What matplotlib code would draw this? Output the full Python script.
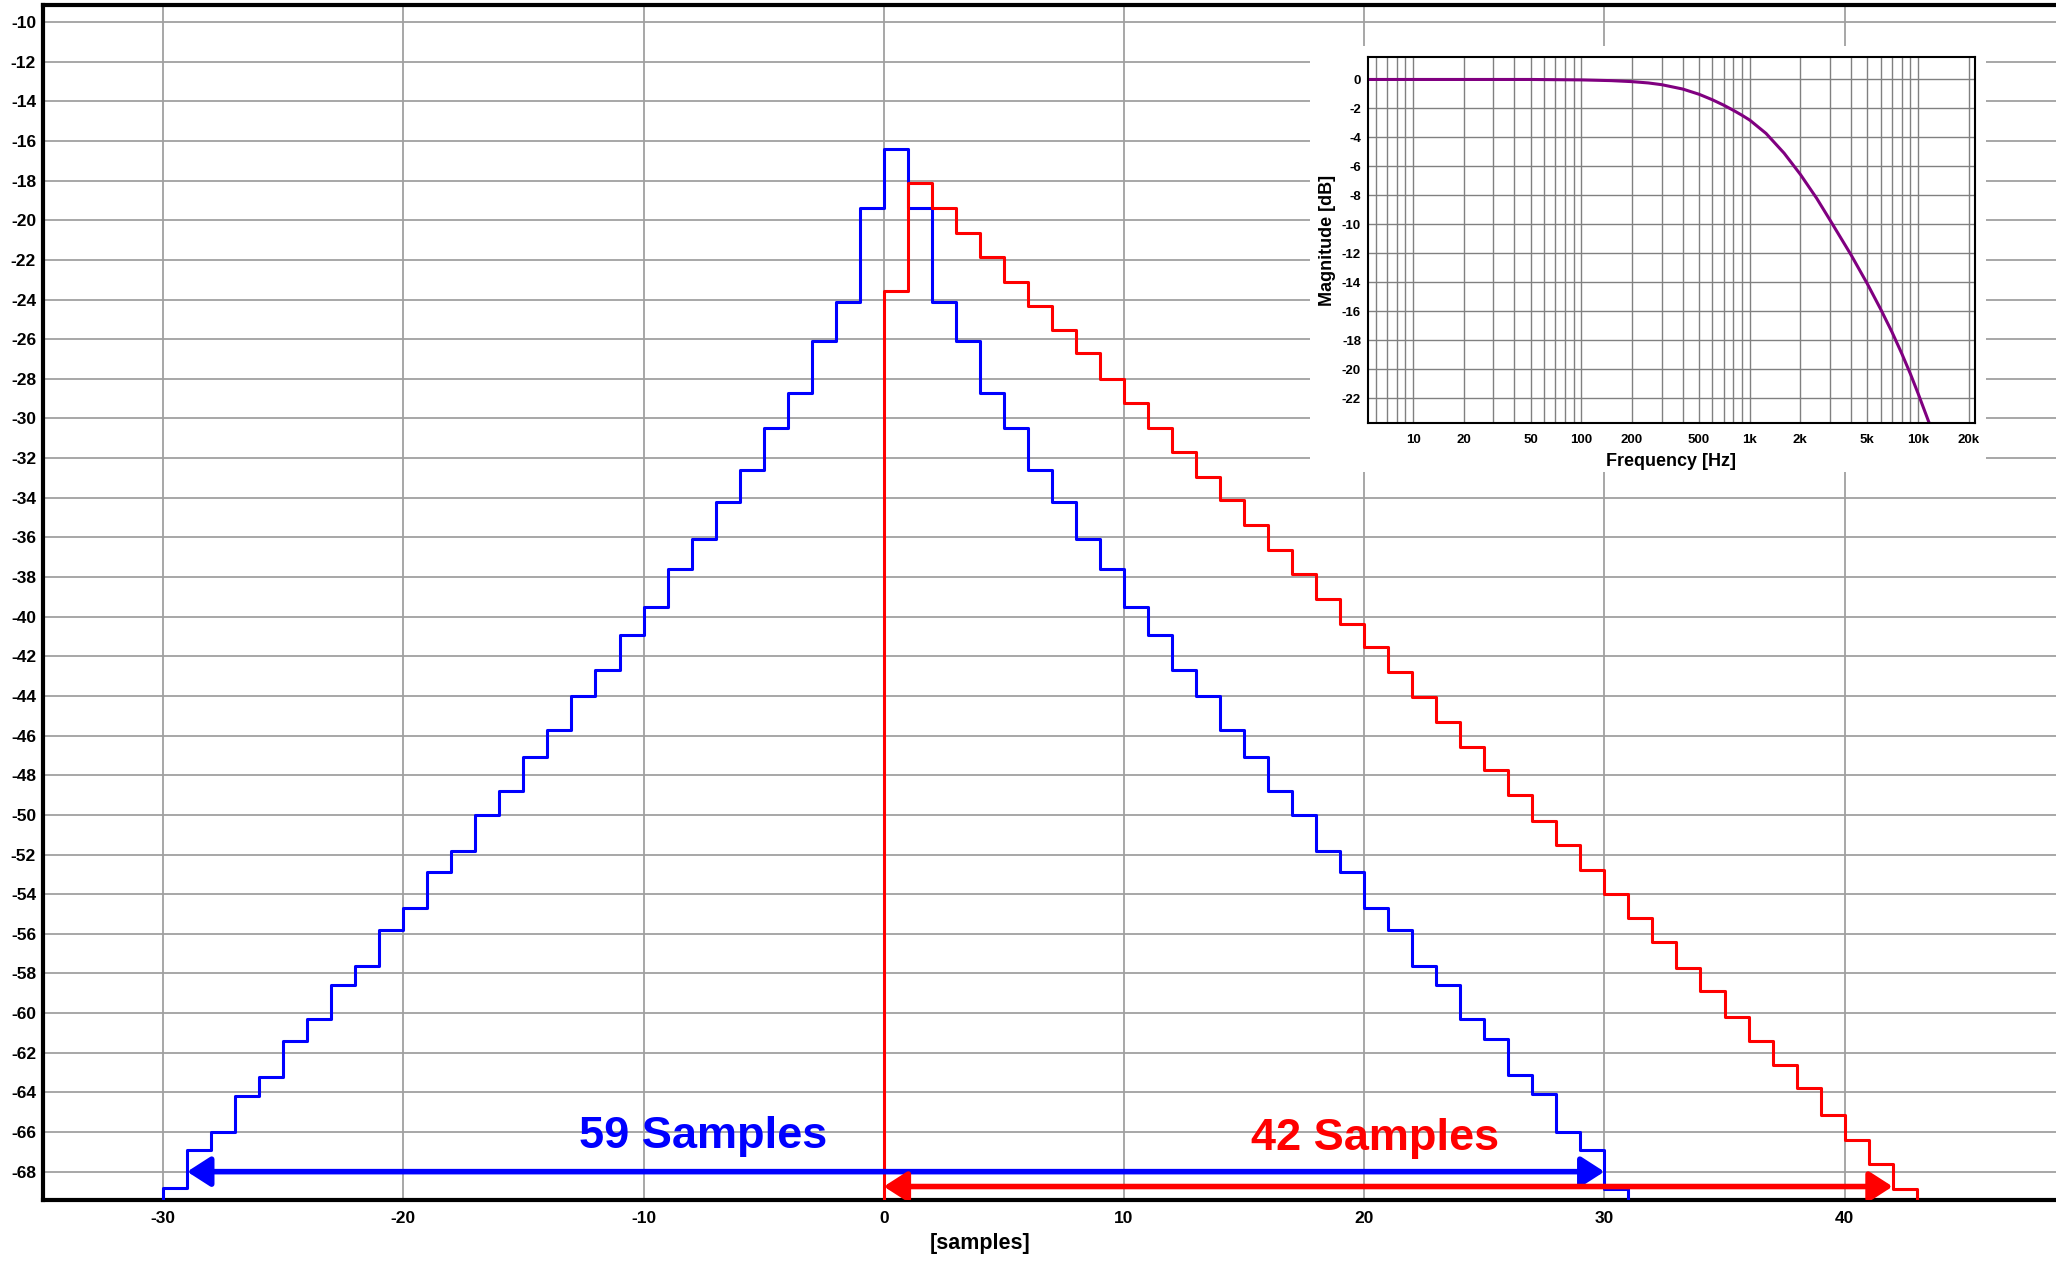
import matplotlib
matplotlib.use("Agg")
import matplotlib.pyplot as plt
import numpy as np
from matplotlib.patches import FancyArrowPatch, Rectangle
from matplotlib.ticker import FixedLocator, NullFormatter

plt.rcParams["font.family"] = ["Liberation Sans", "DejaVu Sans"]
plt.rcParams["font.weight"] = "bold"
plt.rcParams["axes.unicode_minus"] = False

FLOOR = -80.0  # below the visible range, the trace drops off the chart

# impulse response 1 (blue), level of the step starting at each sample
blue_x = list(range(-30, 31))
blue_db = [-68.8, -66.9, -66.0, -64.2, -63.2, -61.4, -60.3, -58.6, -57.6, -55.8,
           -54.7, -52.9, -51.8, -50.0, -48.8, -47.1, -45.7, -44.0, -42.7, -40.9,
           -39.5, -37.6, -36.1, -34.2, -32.6, -30.5, -28.7, -26.1, -24.1, -19.4,
           -16.4,
           -19.4, -24.1, -26.1, -28.7, -30.5, -32.6, -34.2, -36.1, -37.6, -39.5,
           -40.9, -42.7, -44.0, -45.7, -47.1, -48.8, -50.0, -51.8, -52.9, -54.7,
           -55.8, -57.6, -58.6, -60.3, -61.3, -63.1, -64.1, -66.0, -66.9, -68.9]

# impulse response 2 (red)
red_x = list(range(0, 43))
red_db = [-23.56, -18.14, -19.38, -20.63, -21.86, -23.1, -24.33, -25.56, -26.7, -28.0,
          -29.2, -30.5, -31.7, -32.95, -34.1, -35.4, -36.65, -37.85, -39.1, -40.36,
          -41.55, -42.8, -44.06, -45.3, -46.6, -47.76, -49.0, -50.3, -51.5, -52.8,
          -54.0, -55.2, -56.4, -57.7, -58.9, -60.2, -61.4, -62.6, -63.8, -65.15,
          -66.4, -67.6, -68.9]

# length markers
blue_span = (-29, 30, -68.0)
red_span = (0, 42, -68.75)
blue_label = "59 Samples"
red_label = "42 Samples"

# inset: magnitude response
freq_hz = [5.4, 50, 100, 150, 200, 250, 300, 400, 500, 600, 700, 800, 900, 1000,
           1250, 1600, 2000, 2500, 3000, 4000, 5000, 6000, 7000, 8000, 9000,
           10000, 12000]
mag_db = [0.0, 0.0, -0.03, -0.08, -0.15, -0.24, -0.36, -0.66, -1.02, -1.40, -1.77,
          -2.13, -2.47, -2.8, -3.72, -5.08, -6.55, -8.2, -9.7, -12.1, -14.1,
          -15.85, -17.42, -18.9, -20.3, -21.65, -24.1]
freq_ticks = [10, 20, 50, 100, 200, 500, 1000, 2000, 5000, 10000, 20000]
freq_ticklabels = ["10", "20", "50", "100", "200", "500", "1k", "2k", "5k", "10k", "20k"]

W, H = 2056, 1261
fig = plt.figure(figsize=(W / 100, H / 100), dpi=100)
ax = fig.add_axes([43 / W, 1 - 1200 / H, 1 - 43 / W, (1200 - 5) / H])

bx = [blue_x[0] - 1] + blue_x + [blue_x[-1] + 1]
by = [FLOOR] + blue_db + [FLOOR]
rx = [red_x[0] - 1] + red_x + [red_x[-1] + 1]
ry = [FLOOR] + red_db + [FLOOR]
ax.step(bx, by, where="post", color="#0000ff", lw=2.2, zorder=3)
ax.step(rx, ry, where="post", color="#ff0000", lw=2.2, zorder=3)

for (x0, x1, y), col in [(blue_span, "#0000ff"), (red_span, "#ff0000")]:
    ax.add_patch(FancyArrowPatch((x0, y), (x1, y),
                                 arrowstyle="<|-|>,head_length=14,head_width=9",
                                 mutation_scale=1, lw=4, color=col,
                                 shrinkA=0, shrinkB=0, zorder=4))

ax.text(-7.5, -66.8, blue_label, color="#0000ff", fontsize=32.5,
        fontweight="bold", ha="center", va="baseline", zorder=5)
ax.text(20.45, -66.9, red_label, color="#ff0000", fontsize=32.5,
        fontweight="bold", ha="center", va="baseline", zorder=5)

ax.set_xlim(-35, 48.8)
ax.set_ylim(-69.43, -9.14)
ax.set_xticks(np.arange(-30, 41, 10))
ax.set_yticks(np.arange(-68, -9, 2))
ax.tick_params(length=0, labelsize=12.5)
ax.tick_params(axis="y", pad=5)
ax.tick_params(axis="x", pad=8)
for lab in ax.get_xticklabels() + ax.get_yticklabels():
    lab.set_fontweight("bold")
ax.grid(True, color="#a0a0a0", lw=1.3)
ax.set_axisbelow(True)
for side in ["left", "bottom", "top"]:
    ax.spines[side].set_linewidth(3)
ax.spines["right"].set_visible(False)
ax.text(4.0, -71.6, "[samples]", fontsize=15.5, fontweight="bold",
        ha="center", va="center")

# white card behind the inset
fig.add_artist(Rectangle((1310 / W, 1 - 472 / H), 676 / W, 426 / H,
                         transform=fig.transFigure, facecolor="white",
                         edgecolor="none", zorder=1))

ins = fig.add_axes([1368 / W, 1 - 423 / H, 607 / W, 366 / H], zorder=2)
ins.semilogx(freq_hz, mag_db, color="#800080", lw=2.2)
ins.set_xlim(5.4, 21800)
ins.set_ylim(-23.7, 1.55)
ins.xaxis.set_major_locator(FixedLocator(freq_ticks))
ins.set_xticklabels(freq_ticklabels)
ins.xaxis.set_minor_locator(FixedLocator(
    [m * 10 ** e for e in range(0, 5) for m in range(1, 10)]))
ins.xaxis.set_minor_formatter(NullFormatter())
ins.set_yticks(np.arange(-22, 1, 2))
ins.tick_params(which="both", length=0, labelsize=9.5)
ins.tick_params(axis="y", pad=5)
ins.tick_params(axis="x", pad=8)
for lab in ins.get_xticklabels() + ins.get_yticklabels():
    lab.set_fontweight("bold")
ins.grid(True, which="both", color="#808080", lw=1.0)
ins.set_axisbelow(True)
for sp in ins.spines.values():
    sp.set_linewidth(1.5)
ins.set_xlabel("Frequency [Hz]", fontsize=13, fontweight="bold", labelpad=5)
ins.set_ylabel("Magnitude [dB]", fontsize=13, fontweight="bold", labelpad=4)

fig.savefig("out.png", dpi=100)
